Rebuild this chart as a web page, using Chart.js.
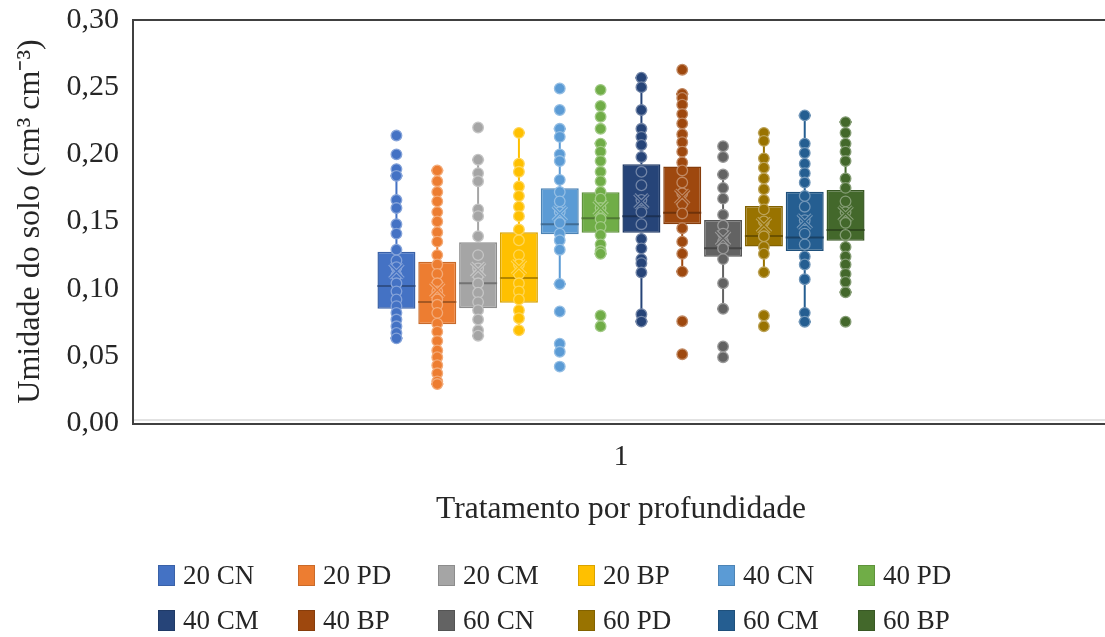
<!DOCTYPE html>
<html><head><meta charset="utf-8">
<script src="https://cdn.jsdelivr.net/npm/chart.js@4"></script>
<style>
html,body{margin:0;padding:0;background:#fff;overflow:hidden;width:1105px;height:637px}
#wrap{position:relative;width:1105px;height:637px;overflow:hidden;background:#fff}
#c{position:absolute;left:0;top:0}
#legend{position:absolute;left:0;top:0;width:1105px;height:637px;font-family:"Liberation Serif",serif;font-size:27px;color:#262626}
.item{position:absolute;display:flex;align-items:center;height:30px;line-height:30px;white-space:nowrap}
.sw{width:17px;height:21px;margin-right:8px;box-sizing:border-box;border:1px solid}
</style></head>
<body><div id="wrap"><canvas id="c" width="1109" height="545" style="width:1109px;height:545px"></canvas><div id="legend"></div></div>
<script>
// ---- data ----
const categories = ['1'];
const seriesNames = ['20 CN','20 PD','20 CM','20 BP','40 CN','40 PD','40 CM','40 BP','60 CN','60 PD','60 CM','60 BP'];
const seriesColors = ['#4472C4','#ED7D31','#A5A5A5','#FFC000','#5B9BD5','#70AD47','#264478','#9E480E','#636363','#997300','#255E91','#43682B'];
const q1Values     = [0.085,0.0735,0.0854,0.0896,0.1405,0.1417,0.1417,0.148,0.1238,0.1313,0.128,0.1357];
const medianValues = [0.102,0.090,0.104,0.108,0.148,0.1524,0.154,0.1566,0.130,0.1392,0.138,0.1437];
const q3Values     = [0.1275,0.120,0.1345,0.142,0.1747,0.1718,0.1926,0.1909,0.1512,0.1616,0.1722,0.1735];
const meanValues   = [0.113,0.099,0.114,0.116,0.156,0.160,0.165,0.1685,0.1375,0.1474,0.150,0.156];
const whiskerLow   = [0.063,0.029,0.065,0.069,0.1035,0.126,0.0755,0.1127,0.085,0.1122,0.0754,0.0973];
const whiskerHigh  = [0.184,0.188,0.196,0.216,0.219,0.208,0.257,0.245,0.185,0.216,0.229,0.224];
const pts20CN = [0.214,0.200,0.189,0.184,0.166,0.160,0.148,0.141,0.129,0.121,0.116,0.110,0.104,0.098,0.092,0.087,0.082,0.077,0.072,0.067,0.063];
const pts20PD = [0.188,0.180,0.172,0.165,0.157,0.150,0.142,0.135,0.125,0.118,0.111,0.104,0.098,0.092,0.088,0.082,0.074,0.068,0.061,0.054,0.049,0.043,0.037,0.031,0.029];
const pts20CM = [0.220,0.196,0.186,0.180,0.159,0.154,0.139,0.125,0.115,0.110,0.104,0.097,0.090,0.084,0.077,0.069,0.065];
const pts20BP = [0.216,0.193,0.187,0.176,0.169,0.161,0.154,0.144,0.136,0.125,0.118,0.111,0.104,0.098,0.092,0.084,0.078,0.069];
const pts40CN = [0.249,0.233,0.219,0.213,0.200,0.195,0.181,0.172,0.165,0.157,0.149,0.141,0.136,0.129,0.1035,0.083,0.059,0.053,0.042];
const pts40PD = [0.248,0.236,0.228,0.219,0.208,0.202,0.195,0.187,0.180,0.172,0.167,0.160,0.152,0.146,0.140,0.133,0.128,0.126,0.080,0.072];
const pts40CM = [0.257,0.250,0.233,0.219,0.213,0.207,0.198,0.187,0.177,0.166,0.157,0.148,0.137,0.130,0.122,0.119,0.112,0.081,0.0755];
const pts40BP = [0.263,0.245,0.242,0.237,0.230,0.223,0.215,0.209,0.202,0.194,0.188,0.179,0.171,0.163,0.156,0.145,0.135,0.126,0.1127,0.0757,0.0512];
const pts60CN = [0.206,0.198,0.185,0.175,0.167,0.155,0.147,0.141,0.135,0.130,0.122,0.104,0.085,0.057,0.049];
const pts60PD = [0.216,0.210,0.197,0.190,0.182,0.174,0.166,0.159,0.150,0.139,0.131,0.126,0.1122,0.080,0.072];
const pts60CM = [0.229,0.208,0.201,0.193,0.186,0.179,0.169,0.161,0.151,0.141,0.133,0.124,0.118,0.107,0.082,0.0754];
const pts60BP = [0.224,0.216,0.208,0.202,0.195,0.182,0.175,0.165,0.157,0.149,0.140,0.131,0.124,0.118,0.111,0.105,0.0973,0.0754];
const pointSets = [pts20CN,pts20PD,pts20CM,pts20BP,pts40CN,pts40PD,pts40CM,pts40BP,pts60CN,pts60PD,pts60CM,pts60BP];
const yTickMin = 0, yTickMax = 0.30, yTickStep = 0.05;
const yTitle = 'Umidade do solo (cm³ cm⁻³)';
const xTitle = 'Tratamento por profundidade';

// ---- helpers ----
function shade(hex, f){
  const n = parseInt(hex.slice(1),16);
  let r = n>>16, g = (n>>8)&255, b = n&255;
  if (f >= 0){ r += (255-r)*f; g += (255-g)*f; b += (255-b)*f; }
  else { r *= (1+f); g *= (1+f); b *= (1+f); }
  return 'rgb('+Math.round(r)+','+Math.round(g)+','+Math.round(b)+')';
}
const FONT = '"Liberation Serif", serif';
const TEXT = '#262626';

const boxPlugin = {
  id: 'boxExtras',
  beforeDatasetsDraw(chart){
    const ctx = chart.ctx, a = chart.chartArea, ys = chart.scales.y;
    ctx.save();
    ctx.strokeStyle = '#D9D9D9'; ctx.lineWidth = 1.5;
    ctx.beginPath(); ctx.moveTo(a.left, ys.getPixelForValue(0) - 3); ctx.lineTo(a.right + 10, ys.getPixelForValue(0) - 3); ctx.stroke();
    ctx.strokeStyle = '#404040'; ctx.lineWidth = 2;
    ctx.strokeRect(a.left, a.top, a.right - a.left + 20, a.bottom - a.top + 1);
    chart.data.datasets.forEach((ds, i) => {
      const bar = chart.getDatasetMeta(i).data[0];
      if (!bar) return;
      const x = bar.x, col = seriesColors[i];
      ctx.strokeStyle = col; ctx.lineWidth = 2;
      const yH = ys.getPixelForValue(whiskerHigh[i]), yL = ys.getPixelForValue(whiskerLow[i]);
      ctx.beginPath();
      ctx.moveTo(x, ys.getPixelForValue(q3Values[i])); ctx.lineTo(x, yH);
      ctx.moveTo(x, ys.getPixelForValue(q1Values[i])); ctx.lineTo(x, yL);
      ctx.moveTo(x - 6, yH); ctx.lineTo(x + 6, yH);
      ctx.moveTo(x - 6, yL); ctx.lineTo(x + 6, yL);
      ctx.stroke();
    });
    ctx.restore();
  },
  afterDatasetsDraw(chart){
    const ctx = chart.ctx, ys = chart.scales.y;
    ctx.save();
    chart.data.datasets.forEach((ds, i) => {
      const bar = chart.getDatasetMeta(i).data[0];
      if (!bar) return;
      const x = bar.x, w = bar.width, col = seriesColors[i];
      const ym = ys.getPixelForValue(medianValues[i]);
      ctx.strokeStyle = shade(col, -0.3); ctx.lineWidth = 2;
      ctx.beginPath(); ctx.moveTo(x - w/2, ym); ctx.lineTo(x + w/2, ym); ctx.stroke();
      pointSets[i].forEach(v => {
        const yp = ys.getPixelForValue(v);
        ctx.beginPath(); ctx.arc(x, yp, 5.3, 0, Math.PI*2);
        ctx.fillStyle = col; ctx.fill();
        ctx.strokeStyle = shade(col, 0.35); ctx.lineWidth = 1.3; ctx.stroke();
      });
      const yx = ys.getPixelForValue(meanValues[i]), s = 7;
      ctx.beginPath();
      ctx.moveTo(x - s, yx - s); ctx.lineTo(x + s, yx + s);
      ctx.moveTo(x + s, yx - s); ctx.lineTo(x - s, yx + s);
      ctx.strokeStyle = shade(col, 0.35); ctx.lineWidth = 3.5; ctx.stroke();
      ctx.strokeStyle = col; ctx.lineWidth = 1.3; ctx.stroke();
    });
    ctx.restore();
  }
};

const datasets = seriesNames.map((name, i) => ({
  label: name,
  data: [[q1Values[i], q3Values[i]]],
  backgroundColor: seriesColors[i],
  borderColor: shade(seriesColors[i], -0.15),
  borderWidth: 1.5,
  borderSkipped: false,
  categoryPercentage: 0.502,
  barPercentage: 0.93
}));

new Chart(document.getElementById('c'), {
  type: 'bar',
  data: { labels: categories, datasets },
  options: {
    responsive: false,
    animation: false,
    devicePixelRatio: 1,
    layout: { padding: { top: 20, left: 0, right: 0, bottom: 0 } },
    plugins: { legend: { display: false }, tooltip: { enabled: false } },
    scales: {
      x: {
        grid: { display: false, drawTicks: false },
        border: { display: false },
        ticks: { font: { family: FONT, size: 30 }, color: TEXT, padding: 16 },
        title: { display: true, text: xTitle, font: { family: FONT, size: 31.5 }, color: TEXT, padding: { top: 0, bottom: 16 } },
        afterFit(s){ s.height = 122; s.paddingLeft = 0; s.paddingRight = 0; }
      },
      y: {
        min: yTickMin, max: yTickMax,
        grid: { display: false, drawTicks: false },
        border: { display: false },
        ticks: { stepSize: yTickStep, font: { family: FONT, size: 30 }, color: TEXT, padding: 14,
                 callback: v => Number(v).toFixed(2).replace('.', ',') },
        title: { display: true, text: yTitle, font: { family: FONT, size: 32 }, color: TEXT, padding: { top: 11, bottom: 0 } },
        afterFit(s){ s.width = 133; s.paddingTop = 0; s.paddingBottom = 0; }
      }
    }
  },
  plugins: [boxPlugin]
});

// ---- legend (two rows, fixed pitch like the original) ----
const legend = document.getElementById('legend');
seriesNames.forEach((name, i) => {
  const row = Math.floor(i / 6), col = i % 6;
  const it = document.createElement('div');
  it.className = 'item';
  it.style.left = (158 + col * 140) + 'px';
  it.style.top = (560 + row * 45) + 'px';
  const sw = document.createElement('span');
  sw.className = 'sw';
  sw.style.background = seriesColors[i];
  sw.style.borderColor = shade(seriesColors[i], -0.15);
  const tx = document.createElement('span');
  tx.textContent = name;
  it.appendChild(sw); it.appendChild(tx);
  legend.appendChild(it);
});
</script>
</body></html>
